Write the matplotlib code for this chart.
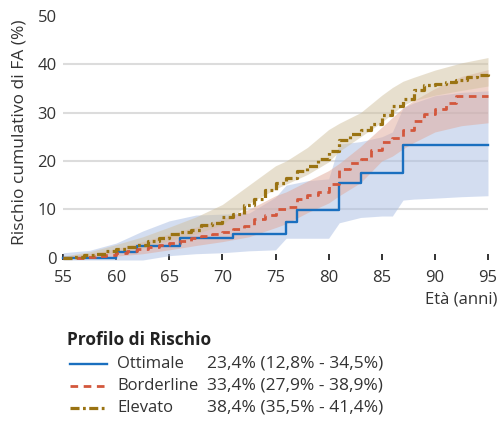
import numpy as np
import matplotlib
matplotlib.use('Agg')
import matplotlib.pyplot as plt
from matplotlib.lines import Line2D

plt.rcParams['font.family'] = ['Open Sans', 'DejaVu Sans']
plt.rcParams['lines.scale_dashes'] = False

# ---------------- data ----------------
ages = list(range(55, 96))

ottimale = [0, 0, 0, 0, 0,
            1.2, 1.2, 2.4, 2.4, 2.4, 2.4,
            4.0, 4.0, 4.0, 4.0, 4.0,
            4.9, 4.9, 4.9, 4.9, 4.9,
            7.4, 9.9, 9.9, 9.9, 9.9,
            15.4, 15.4, 17.6, 17.6, 17.6, 17.6,
            23.4, 23.4, 23.4, 23.4, 23.4, 23.4, 23.4, 23.4, 23.4]

borderline = [0, 0, 0.1, 0.3, 0.6, 0.9, 1.3, 1.7, 2.1, 2.6, 3.1,
              3.5, 4.0, 4.4, 4.9, 5.2, 6.0, 6.6, 8.0, 8.8, 10.0,
              10.5, 12.1, 13.0, 13.6, 15.2, 18.3, 19.6, 20.5, 22.3, 23.9,
              24.8, 26.5, 28.2, 29.8, 30.8, 32.0, 33.4, 33.4, 33.4, 33.4]

elevato = [0, 0.2, 0.5, 0.8, 1.3, 1.7, 2.2, 2.7, 3.4, 4.1, 4.8,
           5.3, 5.8, 6.7, 7.2, 8.3, 9.0, 10.8, 12.1, 14.0, 15.5,
           16.5, 17.9, 19.0, 20.5, 22.0, 24.3, 25.5, 26.4, 27.6, 29.6,
           31.3, 32.8, 34.6, 35.7, 36.0, 36.3, 36.8, 37.3, 37.8, 38.4]

band_ages = [55, 57.5, 60, 62.5, 65, 67.5, 70, 72.5, 75, 76, 78, 80, 81, 83, 85, 86, 87, 88, 90, 92.5, 95]

ottimale_lo = [-0.5, -0.5, -0.5, -0.5, 0.4, 0.8, 1.0, 1.4, 1.6, 4.0, 4.0, 4.0, 7.2, 8.3, 8.6, 8.6, 11.9, 12.1, 12.3, 12.6, 12.8]
ottimale_hi = [1.0, 1.5, 3.0, 5.5, 7.6, 8.8, 9.0, 9.2, 12.5, 15.0, 15.9, 16.3, 23.5, 24.0, 25.0, 26.0, 31.0, 32.0, 33.5, 34.2, 34.5]

borderline_lo = [0, 0, 0.3, 0.8, 1.6, 2.5, 3.3, 4.3, 6.2, 7.0, 9.3, 11.3, 12.8, 15.5, 20.0, 21.0, 22.5, 23.8, 26.0, 27.3, 27.9]
borderline_hi = [0.3, 0.8, 1.8, 3.3, 4.9, 6.3, 8.0, 10.0, 12.8, 13.6, 15.8, 18.0, 19.5, 23.0, 27.0, 29.0, 31.0, 32.5, 35.0, 37.5, 38.9]

elevato_lo = [0, 0.3, 1.0, 2.0, 3.5, 4.9, 6.8, 11.2, 14.2, 15.2, 17.2, 19.8, 22.0, 25.0, 28.0, 29.8, 31.5, 32.5, 33.6, 34.6, 35.5]
elevato_hi = [0.3, 1.2, 2.7, 4.3, 6.3, 8.4, 11.0, 15.0, 19.0, 20.0, 22.8, 26.5, 27.8, 30.0, 33.6, 35.2, 36.5, 37.3, 38.8, 40.3, 41.4]

series_names = ['Ottimale', 'Borderline', 'Elevato']
series_ci = ['23,4% (12,8% - 34,5%)', '33,4% (27,9% - 38,9%)', '38,4% (35,5% - 41,4%)']
x_ticks = [55, 60, 65, 70, 75, 80, 85, 90, 95]
y_ticks = [0, 10, 20, 30, 40, 50]
grid_values = [10, 20, 30, 40]

# ---------------- styles ----------------
line_colors = ['#1a6fbf', '#d3573c', '#9a7312']
band_colors = ['#a9bde3', '#e1a999', '#d1c19f']
line_styles = [dict(linestyle='-'),
               dict(linestyle=(0, (5.5, 4.0))),
               dict(linestyle=(0, (6.5, 2.5, 2.0, 2.5)))]
line_widths = [1.7, 2.0, 2.3]

W, H = 501, 421
fig = plt.figure(figsize=(W / 100, H / 100), dpi=100)
ax_left, ax_right, ax_top, ax_bottom = 63, 488, 16, 260
ax = fig.add_axes([ax_left / W, 1 - ax_bottom / H, (ax_right - ax_left) / W, (ax_bottom - ax_top) / H])

for g in grid_values:
    ax.axhline(g, color='#dcdcdc', lw=1.5, zorder=0)

bands = [(ottimale_lo, ottimale_hi), (borderline_lo, borderline_hi), (elevato_lo, elevato_hi)]
for (lo, hi), c in zip(bands, band_colors):
    ax.fill_between(band_ages, lo, hi, color=c, alpha=0.5, lw=0, zorder=2)

series = [ottimale, borderline, elevato]
for i, vals in enumerate(series):
    ax.step(ages, vals, where='post', color=line_colors[i], lw=line_widths[i],
            zorder=4 + i, clip_on=False, **line_styles[i])

ax.set_xlim(55, 95)
ax.set_ylim(-0.5, 50)
ax.set_xticks(x_ticks)
ax.set_yticks(y_ticks)
for s in ax.spines.values():
    s.set_visible(False)
ax.tick_params(axis='x', direction='in', length=4, width=1.3, color='#222222',
               pad=7, labelsize=12, labelcolor='#333333')
ax.tick_params(axis='y', length=0, pad=4.5, labelsize=12, labelcolor='#333333')

fig.text(20 / W, 1 - 132 / H, 'Rischio cumulativo di FA (%)', rotation=90,
         ha='center', va='center', fontsize=12.5, color='#333333')
fig.text(497 / W, 1 - 300 / H, 'Età (anni)', ha='right', va='center',
         fontsize=12, color='#333333')

# legend
fig.text(67 / W, 1 - 340 / H, 'Profilo di Rischio', ha='left', va='center',
         fontsize=12.5, fontweight='bold', color='#222222')
row_y = [364, 386, 408]
for i in range(3):
    yf = 1 - row_y[i] / H
    fig.add_artist(Line2D([70 / W, 107 / W], [yf, yf], transform=fig.transFigure,
                          color=line_colors[i], lw=line_widths[i], **line_styles[i]))
    fig.text(117 / W, yf, series_names[i], ha='left', va='center', fontsize=12, color='#333333')
    fig.text(207 / W, yf, series_ci[i], ha='left', va='center', fontsize=12.5, color='#333333')

fig.savefig('out.png', dpi=100)
